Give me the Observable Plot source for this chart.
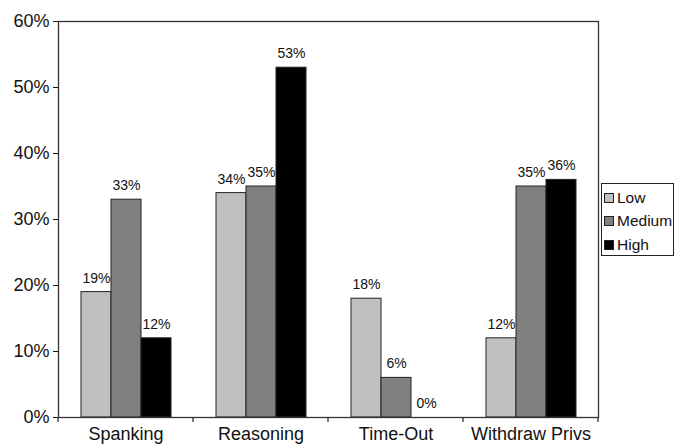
<!DOCTYPE html>
<html><head><meta charset="utf-8">
<script src="https://cdn.jsdelivr.net/npm/d3@7"></script>
<script src="https://cdn.jsdelivr.net/npm/@observablehq/plot@0.6"></script>
<style>
body{margin:0;background:#fff;font-family:"Liberation Sans",Arial,sans-serif;overflow:hidden;}
#wrap{position:relative;width:675px;height:444px;overflow:hidden;}
#legend{position:absolute;left:601px;top:183px;width:73px;height:73px;border:1px solid #222;box-sizing:border-box;background:#fff;padding-top:2px;}
.item{display:flex;align-items:center;height:23.5px;font-size:15.5px;color:#111;}
.sw{width:8px;height:8px;border:1px solid #222;margin:0 3px 0 2px;}
</style>
</head><body><div id="wrap"></div>
<script>
const categories = ["Spanking", "Reasoning", "Time-Out", "Withdraw Privs"];
const levels = ["Low", "Medium", "High"];
const low = [19, 34, 18, 12];
const medium = [33, 35, 6, 35];
const high = [12, 53, 0, 36];
const yTicks = [0, 10, 20, 30, 40, 50, 60];
const colors = ["#c0c0c0", "#808080", "#000000"];

const series = [low, medium, high];
const data = categories.flatMap((c, i) => levels.map((l, j) => ({category: c, level: l, value: series[j][i]})));

const chart = Plot.plot({
  width: 675, height: 444,
  marginLeft: 58, marginRight: 77, marginTop: 21, marginBottom: 27,
  style: {fontFamily: "'Liberation Sans', Arial, sans-serif", fontSize: "18px", color: "#111", background: "#fff"},
  fx: {domain: categories, padding: 0, label: null, tickSize: 0, tickPadding: 10},
  x: {domain: levels, paddingInner: 0, paddingOuter: 0.727, axis: null},
  y: {domain: [0, 60], ticks: yTicks, tickFormat: d => d + "%", label: null, tickSize: 5, tickPadding: 4},
  color: {domain: levels, range: colors},
  marks: [
    Plot.barY(data, {fx: "category", x: "level", y: "value", fill: "level", stroke: "#222", strokeWidth: 1}),
    Plot.text(data, {fx: "category", x: "level", y: "value", text: d => d.value + "%", dy: -14, fontSize: 14, lineAnchor: "middle", fill: "#111"}),
    Plot.frame({facet: "super", stroke: "#333", strokeWidth: 1.3})
  ]
});

// boundary ticks below the x axis, positioned with Plot's own fx and y scales
const fx = chart.scale("fx");
const ys = chart.scale("y");
const y0 = ys.apply(0);
const edges = categories.map(c => fx.apply(c)).concat([fx.apply(categories[categories.length - 1]) + fx.bandwidth]);
const svg = d3.select(chart);
svg.append("g").selectAll("line").data(edges).join("line")
  .attr("x1", d => d).attr("x2", d => d)
  .attr("y1", y0).attr("y2", y0 + 5)
  .attr("stroke", "#333").attr("stroke-width", 1.3);

const wrap = document.getElementById("wrap");
wrap.appendChild(chart);
const legend = document.createElement("div");
legend.id = "legend";
levels.forEach((l, i) => {
  const it = document.createElement("div");
  it.className = "item";
  const sw = document.createElement("span");
  sw.className = "sw";
  sw.style.background = colors[i];
  it.appendChild(sw);
  it.appendChild(document.createTextNode(l));
  legend.appendChild(it);
});
wrap.appendChild(legend);
</script>
</body></html>
